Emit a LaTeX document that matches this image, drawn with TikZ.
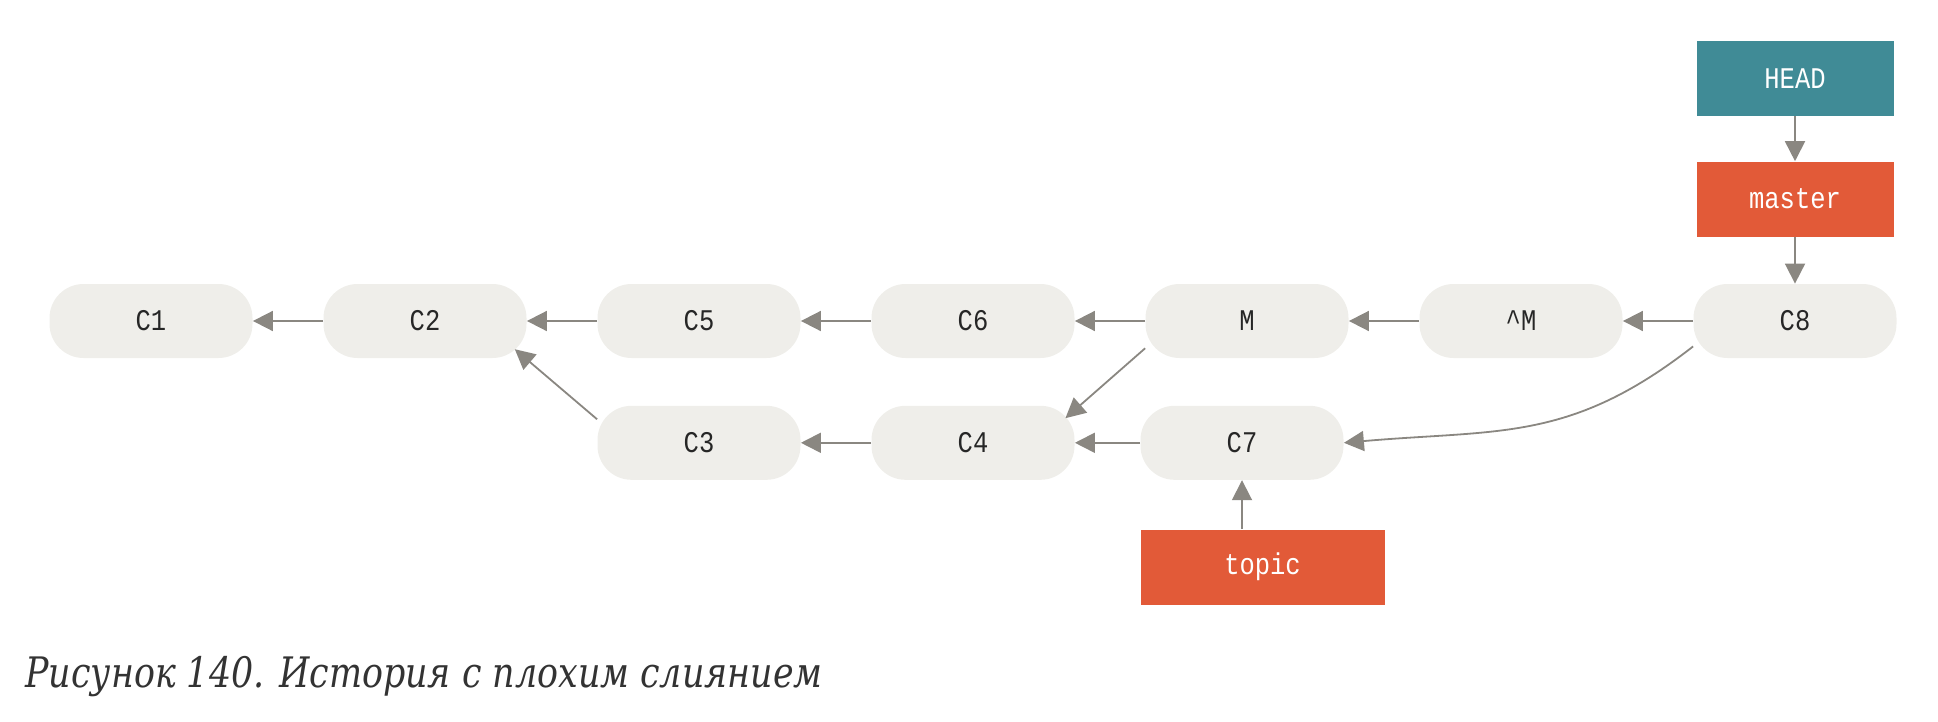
\documentclass[tikz,border=0pt]{standalone}
\usepackage{fontspec}
\setmonofont[FakeStretch=0.85]{Liberation Mono}
\newfontfamily\captionfont[FakeStretch=0.83]{DejaVu Serif}
\usetikzlibrary{arrows.meta, positioning}

\definecolor{commitfill}{RGB}{239,238,234}
\definecolor{arrowgray}{RGB}{138,135,129}
\definecolor{headteal}{RGB}{64,139,150}
\definecolor{branchred}{RGB}{226,90,56}
\definecolor{captiongray}{RGB}{51,51,51}

\begin{document}
\begin{tikzpicture}[
  node distance=23.5pt and 35.1pt,
  commit/.style={fill=commitfill, rounded corners=17pt, minimum width=101.5pt, minimum height=37pt, font=\ttfamily\fontsize{15}{18}\selectfont, text=black!85},
  refbox/.style={fill=#1, minimum width=98.5pt, minimum height=37.5pt, font=\ttfamily\fontsize{15}{18}\selectfont, text=white},
  arrow/.style={-{Triangle[length=10pt, width=10pt]}, line width=0.9pt, draw=arrowgray},
]
\useasboundingbox (0,0) rectangle (969pt,-361pt);

% Main line
\node[commit] (c1) at (75.5pt,-160.5pt) {C1};
\node[commit, right=of c1] (c2) {C2};
\node[commit, right=of c2] (c5) {C5};
\node[commit, right=of c5] (c6) {C6};
\node[commit, right=of c6] (m) {M};
\node[commit, right=of m] (um) {\textasciicircum M};
\node[commit, right=of um] (c8) {C8};

% Topic line
\node[commit, below=of c5] (c3) {C3};
\node[commit, below=of c6] (c4) {C4};
\node[commit, below=of m, xshift=-2.5pt] (c7) {C7};

% Refs
\node[refbox=branchred, above=23.3pt of c8] (master) {master};
\node[refbox=headteal, above=22.5pt of master] (head) {HEAD};
\node[refbox=branchred, minimum width=122pt, below right=24.5pt and 0pt of c7.south west] (topic) {topic};

% Caption
\node[anchor=base west, inner sep=0pt, text=captiongray, font=\captionfont\itshape\fontsize{21}{25}\selectfont] (caption) at (12.5pt,-343.5pt) {Рисунок 140. История с плохим слиянием};

% Arrow ends inside the rounded corners
\coordinate (c2in) at ([shift={(44.9pt,-14.1pt)}]c2.center);
\coordinate (c4in) at ([shift={(46.2pt,12.3pt)}]c4.center);

% Arrows
\draw[arrow] (c2) -- (c1);
\draw[arrow] (c5) -- (c2);
\draw[arrow] (c6) -- (c5);
\draw[arrow] (m) -- (c6);
\draw[arrow] (um) -- (m);
\draw[arrow] (c8) -- (um);
\draw[arrow] (c3.167) -- (c2in);
\draw[arrow] (c4) -- (c3);
\draw[arrow] (c7) -- (c4);
\draw[arrow] (m.195) -- (c4in);
\draw[arrow] (c8.194) to[out=218, in=5, looseness=1.1] (c7.east);
\draw[arrow] (head) -- (master);
\draw[arrow] (master) -- (c8);
\draw[arrow] (c7 |- topic.north) -- (c7);

\end{tikzpicture}
\end{document}
